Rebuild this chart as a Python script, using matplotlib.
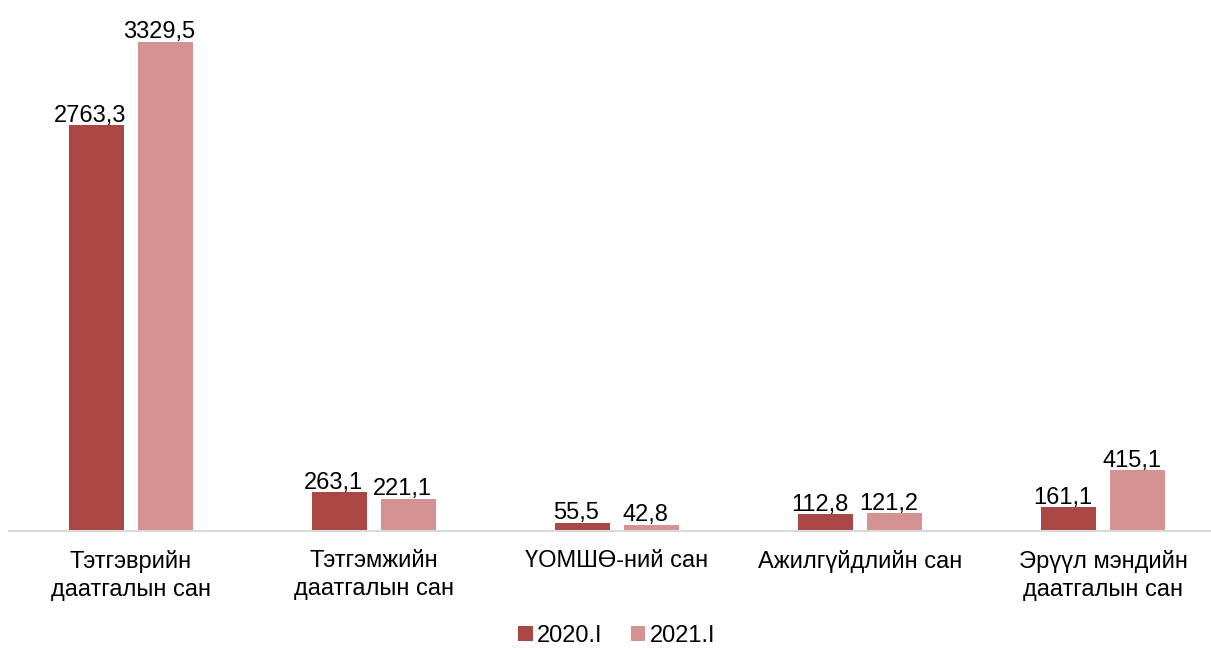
import matplotlib.pyplot as plt
import numpy as np

plt.rcParams["font.family"] = ["Liberation Sans", "DejaVu Sans"]

categories = [
    "Тэтгэврийн\nдаатгалын сан",
    "Тэтгэмжийн\nдаатгалын сан",
    "ҮОМШӨ-ний сан",
    "Ажилгүйдлийн сан",
    "Эрүүл мэндийн\nдаатгалын сан",
]
series_names = ["2020.I", "2021.I"]
values_2020 = [2763.3, 263.1, 55.5, 112.8, 161.1]
values_2021 = [3329.5, 221.1, 42.8, 121.2, 415.1]

colors = ["#AA4644", "#D49392"]
fs = 17

W, H = 1211, 648
fig = plt.figure(figsize=(W / 100, H / 100), dpi=100)
# plot area: left edge at 9 px, baseline at 531 px, slightly wider than the figure
ax = fig.add_axes([9 / W, (H - 531) / H, 1216 / W, 521 / H])

x = np.arange(len(categories))
width = 0.226
offset = 0.142

bars = []
for i, (name, vals) in enumerate(zip(series_names, [values_2020, values_2021])):
    b = ax.bar(x + (i * 2 - 1) * offset, vals, width, color=colors[i], label=name)
    bars.append(b)
    for rect, v in zip(b, vals):
        ax.annotate(
            f"{v:.1f}".replace(".", ","),
            (rect.get_x() + rect.get_width() / 2 - 0.025, rect.get_height()),
            xytext=(0, 2.5),
            textcoords="offset points",
            ha="center",
            va="baseline",
            fontsize=fs,
        )

ax.set_xlim(-0.5, len(categories) - 0.5)
ax.set_ylim(0, 3547)
ax.set_xticks(x)
ax.set_xticklabels(categories, fontsize=fs, linespacing=1.35)
ax.tick_params(axis="x", length=0, pad=14)
ax.set_yticks([])
for side in ["top", "right", "left"]:
    ax.spines[side].set_visible(False)
ax.spines["bottom"].set_color("#D9D9D9")
ax.spines["bottom"].set_linewidth(1.5)

fig.legend(
    handles=bars,
    labels=series_names,
    loc="center",
    bbox_to_anchor=(617 / W, (H - 636) / H),
    ncol=2,
    frameon=False,
    fontsize=fs,
    handlelength=0.6,
    handleheight=0.6,
    handletextpad=0.2,
    columnspacing=1.2,
)

fig.savefig("out.png", dpi=100)
